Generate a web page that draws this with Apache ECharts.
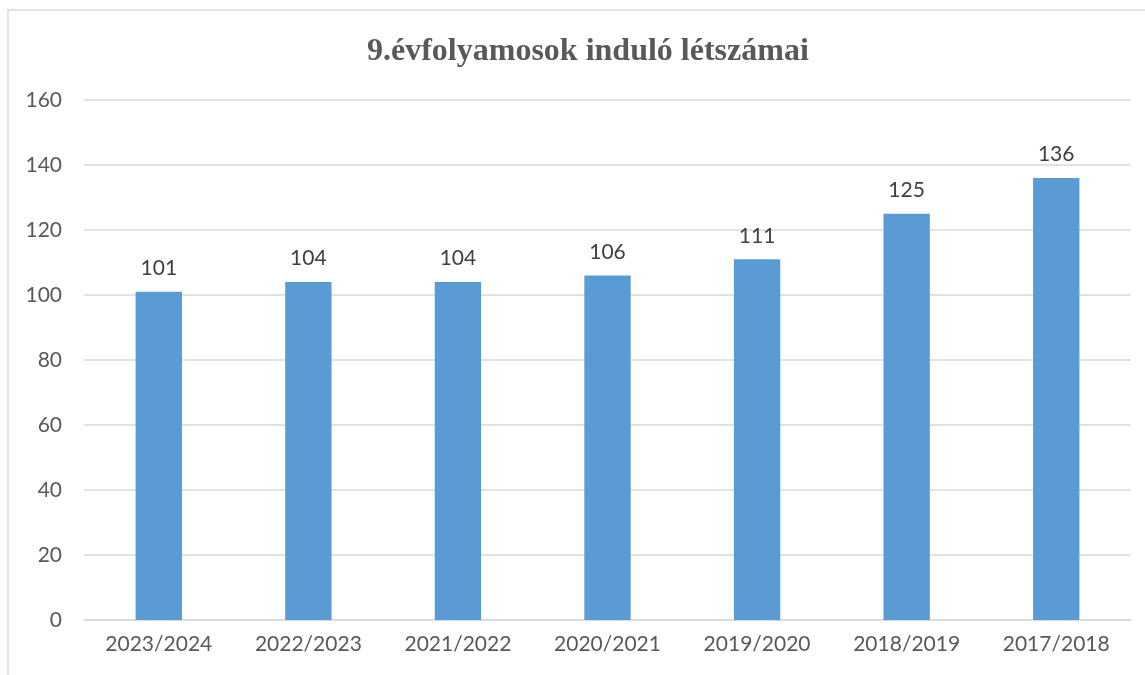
<!DOCTYPE html>
<html>
<head>
<meta charset="utf-8">
<script src="https://cdn.jsdelivr.net/npm/echarts@6/dist/echarts.min.js"></script>
<style>
html,body{margin:0;padding:0;background:#fff;}
#chart{width:1145px;height:675px;}
</style>
</head>
<body>
<div id="chart"></div>
<script>
const categories = ['2023/2024','2022/2023','2021/2022','2020/2021','2019/2020','2018/2019','2017/2018'];
const values = [101,104,104,106,111,125,136];
const yTicks = {min:0, max:160, interval:20};

const chart = echarts.init(document.getElementById('chart'));
chart.setOption({
  animation:false,
  backgroundColor:'#fff',
  graphic:[{
    type:'rect',
    shape:{x:8,y:10,width:1300,height:800},
    style:{fill:'none',stroke:'#d9d9d9',lineWidth:1.5},
    silent:true
  }],
  title:{
    text:'9.évfolyamosok induló létszámai',
    left:362,
    top:31,
    textStyle:{fontFamily:'Liberation Serif',fontWeight:'bold',fontSize:32,color:'#595959'}
  },
  grid:{left:84,right:14,top:100,bottom:55,containLabel:false},
  xAxis:{
    type:'category',
    data:categories,
    axisLine:{show:true,lineStyle:{color:'#d9d9d9',width:1.5}},
    axisTick:{show:false},
    axisLabel:{fontFamily:'Lato',fontSize:21,color:'#595959',margin:14}
  },
  yAxis:{
    type:'value',
    min:yTicks.min,max:yTicks.max,interval:yTicks.interval,
    axisLine:{show:false},
    axisTick:{show:false},
    splitLine:{lineStyle:{color:'#d9d9d9',width:1.5}},
    axisLabel:{fontFamily:'Lato',fontSize:21,color:'#595959',margin:22}
  },
  series:[{
    type:'bar',
    data:values,
    barWidth:'31%',
    itemStyle:{color:'#5B9BD5'},
    label:{show:true,position:'top',distance:13,fontFamily:'Lato',fontSize:21,color:'#404040'}
  }]
});
</script>
</body>
</html>
